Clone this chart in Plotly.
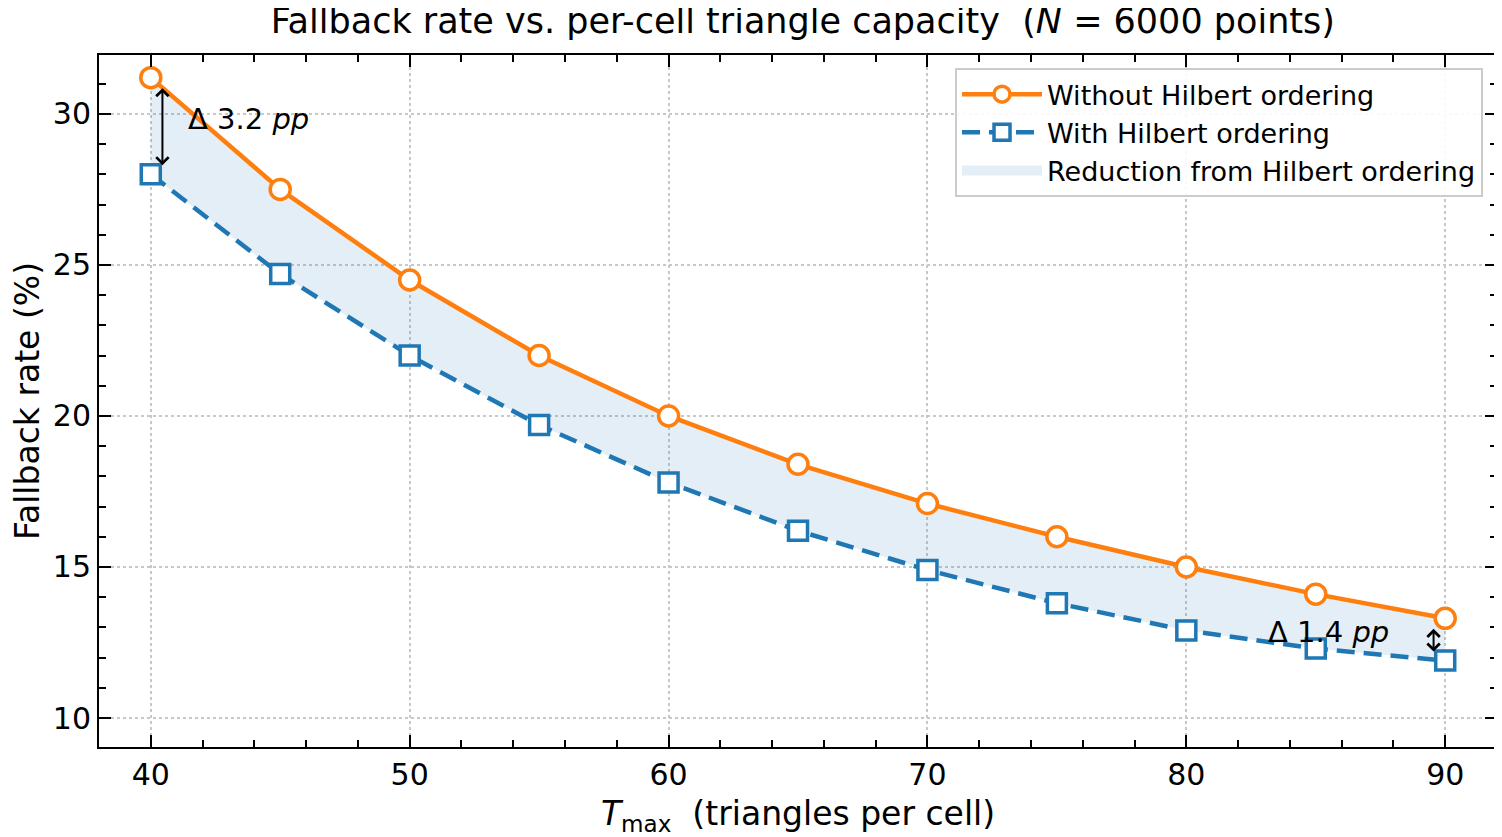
"""
Fallback rate vs. per-cell triangle capacity, with and without Hilbert ordering.
Matplotlib-ish look: boxed axes, inward ticks, dotted grid, shaded gap.
"""

import plotly.graph_objects as go

# --- Data ---
t_max = [40, 45, 50, 55, 60, 65, 70, 75, 80, 85, 90]
rate_without = [31.2, 27.5, 24.5, 22.0, 20.0, 18.4, 17.1, 16.0, 15.0, 14.1, 13.3]
rate_with = [28.0, 24.7, 22.0, 19.7, 17.8, 16.2, 14.9, 13.8, 12.9, 12.3, 11.9]

x_ticks = [40, 50, 60, 70, 80, 90]
y_ticks = [10, 15, 20, 25, 30]

ORANGE = "#ff7f0e"
BLUE = "#1f77b4"
BAND = "rgba(31,119,180,0.12)"
FONT = "DejaVu Sans"

# the page body adds an 8px margin, so the figure is a bit smaller than the window
FIG_W, FIG_H = 1494, 829

fig = go.Figure()

# shaded band between the curves (lower edge first, then fill up to upper)
fig.add_trace(go.Scatter(
    x=t_max, y=rate_with, mode="lines",
    line=dict(width=0, color="rgba(0,0,0,0)"),
    showlegend=False, hoverinfo="skip",
))
fig.add_trace(go.Scatter(
    x=t_max, y=rate_without, mode="lines",
    line=dict(width=0, color="rgba(0,0,0,0)"),
    fill="tonexty", fillcolor=BAND,
    showlegend=False, hoverinfo="skip",
))
# legend-only entry so the band shows as a fat patch in the legend
fig.add_trace(go.Scatter(
    x=[None], y=[None], mode="lines",
    line=dict(width=20, color=BAND),
    name="Reduction from Hilbert ordering", legendrank=3,
))

fig.add_trace(go.Scatter(
    x=t_max, y=rate_without, mode="lines+markers",
    line=dict(color=ORANGE, width=4.5),
    marker=dict(symbol="circle", size=20, color="white",
                line=dict(color=ORANGE, width=3.5)),
    name="Without Hilbert ordering", legendrank=1,
))
fig.add_trace(go.Scatter(
    x=t_max, y=rate_with, mode="lines+markers",
    line=dict(color=BLUE, width=4.5, dash="18px,9px"),
    marker=dict(symbol="square", size=19, color="white",
                line=dict(color=BLUE, width=3.5)),
    name="With Hilbert ordering", legendrank=2,
))

# --- Gap annotations (double-headed arrows + labels) ---
first_gap = rate_without[0] - rate_with[0]
last_gap = rate_without[-1] - rate_with[-1]

for xa, top, bot in [(t_max[0] + 0.45, rate_without[0], rate_with[0]),
                     (t_max[-1] - 0.45, rate_without[-1], rate_with[-1])]:
    fig.add_annotation(
        x=xa, y=bot, ax=xa, ay=top, xref="x", yref="y", axref="x", ayref="y",
        text="", showarrow=True, arrowside="end+start", arrowhead=4,
        arrowsize=1.2, arrowwidth=2, arrowcolor="black",
        standoff=9, startstandoff=9,
    )

fig.add_annotation(
    x=41.35, y=29.83, xref="x", yref="y", showarrow=False,
    text=f"Δ {first_gap:.1f} <i>pp</i>", xanchor="left", yanchor="middle",
    font=dict(family=FONT, size=29, color="black"),
)
fig.add_annotation(
    x=87.9, y=12.85, xref="x", yref="y", showarrow=False,
    text=f"Δ {last_gap:.1f} <i>pp</i>", xanchor="right", yanchor="middle",
    font=dict(family=FONT, size=29, color="black"),
)

axis_common = dict(
    showline=True, linecolor="black", linewidth=2, mirror="ticks",
    ticks="inside", ticklen=12, tickwidth=2, tickcolor="black",
    showgrid=True, gridcolor="#c8c8c8", gridwidth=1.5, griddash="dot",
    zeroline=False, automargin=False,
    tickfont=dict(family=FONT, size=30, color="black"),
)

fig.update_xaxes(
    **axis_common,
    range=[38, 92], tickvals=x_ticks,
    minor=dict(dtick=2, ticks="inside", ticklen=7, tickwidth=1.5,
               tickcolor="black", showgrid=False),
    title=dict(text="<i>T</i><sub>max</sub> &nbsp;(triangles per cell)",
               font=dict(family=FONT, size=33, color="black"), standoff=12),
)
fig.update_yaxes(
    **axis_common,
    range=[9.04, 31.95], tickvals=y_ticks,
    minor=dict(dtick=1, ticks="inside", ticklen=7, tickwidth=1.5,
               tickcolor="black", showgrid=False),
    title=dict(text="Fallback rate (%)",
               font=dict(family=FONT, size=33, color="black"), standoff=10),
)

fig.update_layout(
    width=FIG_W, height=FIG_H,
    paper_bgcolor="white", plot_bgcolor="white",
    margin=dict(l=91, r=5, t=47, b=90),
    font=dict(family=FONT, color="black"),
    title=dict(
        text="Fallback rate vs. per-cell triangle capacity &nbsp;(<i>N</i> = 6000 points)",
        font=dict(family=FONT, size=35, color="black"),
        x=0.532, xanchor="center", y=1 - 13 / FIG_H, yanchor="middle",
    ),
    legend=dict(
        x=0.99, xanchor="right", y=0.981, yanchor="top",
        bgcolor="rgba(255,255,255,0.9)", bordercolor="#cccccc", borderwidth=2,
        font=dict(family=FONT, size=27, color="black"),
        itemwidth=80, tracegroupgap=0, traceorder="normal",
    ),
    showlegend=True,
)

fig.write_html("out.html")
